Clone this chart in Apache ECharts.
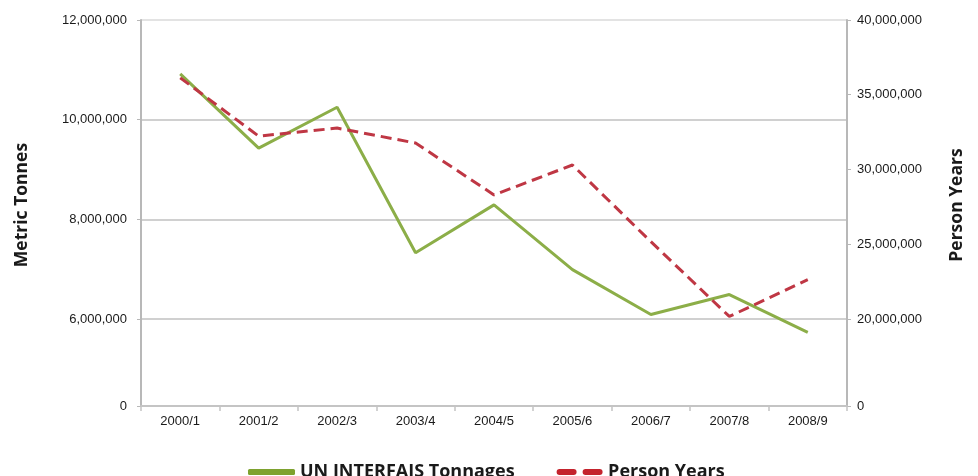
<!DOCTYPE html>
<html>
<head>
<meta charset="utf-8">
<script src="https://cdn.jsdelivr.net/npm/echarts@6/dist/echarts.min.js"></script>
<style>
html,body{margin:0;padding:0;background:#fff;}
#chart{width:978px;height:476px;}
</style>
</head>
<body>
<div id="chart"></div>
<script>
// ---- data ----
const categories = ['2000/1','2001/2','2002/3','2003/4','2004/5','2005/6','2006/7','2007/8','2008/9'];
const tonnages = [10920000, 9430000, 10250000, 7330000, 8290000, 6990000, 6090000, 6490000, 5730000];
const personYears = [36130000, 32230000, 32770000, 31770000, 28300000, 30300000, 25170000, 20170000, 22630000];
// tick labels (the reference axes are broken: "0" sits at the bottom of a compressed segment)
const leftTicks = [0, 6000000, 8000000, 10000000, 12000000];
const rightTicks = [0, 20000000, 25000000, 30000000, 35000000, 40000000];
const leftBreakValue = 4254000;   // scale value where the "0" label is drawn
const rightBreakValue = 14180000; // scale value where the "0" label is drawn

const leftTickPos = leftTicks.map(v => v === 0 ? leftBreakValue : v);
const rightTickPos = rightTicks.map(v => v === 0 ? rightBreakValue : v);
const fmt = (v, brk) => (Math.abs(v - brk) < 1 ? '0' : Math.round(v).toLocaleString('en-US'));

const chart = echarts.init(document.getElementById('chart'), null, {renderer: 'canvas'});
const axisFont = {fontFamily: '"Liberation Sans", Arial, sans-serif', fontSize: 13, color: '#1a1a1a'};
const nameFont = {fontFamily: '"Open Sans", sans-serif', fontWeight: 'bold', fontSize: 17.5, color: '#1a1a1a', padding: [0, 0, 0, 16]};
chart.setOption({
  animation: false,
  backgroundColor: '#fff',
  grid: {left: 141, right: 131, top: 20, bottom: 70, containLabel: false},
  legend: {
    left: 243, top: 458,
    itemGap: 42, itemWidth: 47, itemHeight: 6,
    textStyle: {fontFamily: '"Open Sans", sans-serif', fontWeight: 'bold', fontSize: 18, color: '#1a1a1a'},
    data: [
      {name: 'UN INTERFAIS Tonnages', icon: 'roundRect', itemStyle: {color: '#7ea22f'}},
      {name: 'Person Years', icon: 'path://M3,0h14a3,3 0 0 1 0,6h-14a3,3 0 0 1 0,-6z M29,0h14a3,3 0 0 1 0,6h-14a3,3 0 0 1 0,-6z', itemStyle: {color: '#c4232d'}}
    ]
  },
  xAxis: {
    type: 'category',
    data: categories,
    boundaryGap: true,
    axisLine: {show: true, lineStyle: {color: '#c4c4c4', width: 2}},
    axisTick: {show: true, alignWithLabel: false, length: 5, lineStyle: {color: '#c4c4c4', width: 1.5}},
    axisLabel: Object.assign({margin: 9}, axisFont),
    splitLine: {show: false}
  },
  yAxis: [
    {
      type: 'value',
      min: leftBreakValue, max: 12000000,
      name: 'Metric Tonnes', nameLocation: 'middle', nameGap: 110, nameRotate: 90,
      nameTextStyle: nameFont,
      axisLine: {show: true, lineStyle: {color: '#b8b8b8', width: 2}},
      axisTick: {show: true, length: 4, customValues: leftTickPos, lineStyle: {color: '#b8b8b8'}},
      axisLabel: Object.assign({margin: 14, customValues: leftTickPos, formatter: v => fmt(v, leftBreakValue)}, axisFont),
      splitLine: {show: true, lineStyle: {color: ['#c4c4c4', '#c0c0c0', '#c0c0c0', '#c0c0c0', '#dadada'], width: 1.5}}
    },
    {
      type: 'value',
      min: rightBreakValue, max: 40000000,
      position: 'right',
      name: 'Person Years', nameLocation: 'middle', nameGap: 101, nameRotate: 90,
      nameTextStyle: nameFont,
      axisLine: {show: true, lineStyle: {color: '#b8b8b8', width: 2}},
      axisTick: {show: true, length: 4, customValues: rightTickPos, lineStyle: {color: '#b8b8b8'}},
      axisLabel: Object.assign({margin: 10, customValues: rightTickPos, formatter: v => fmt(v, rightBreakValue)}, axisFont),
      splitLine: {show: false}
    }
  ],
  series: [
    {
      name: 'UN INTERFAIS Tonnages', type: 'line', yAxisIndex: 0,
      data: tonnages, symbol: 'none', smooth: false,
      itemStyle: {color: '#7ea22f'},
      lineStyle: {color: '#8cae48', width: 3}, z: 3
    },
    {
      name: 'Person Years', type: 'line', yAxisIndex: 1,
      data: personYears, symbol: 'none', smooth: false,
      itemStyle: {color: '#c4232d'},
      lineStyle: {color: '#bf3744', width: 3, type: [11, 6]}, z: 4
    }
  ]
});
</script>
</body>
</html>
